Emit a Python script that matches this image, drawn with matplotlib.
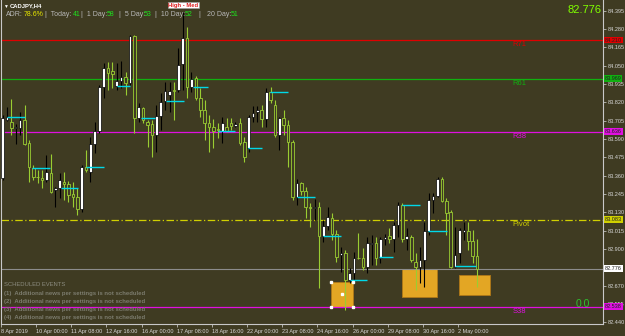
"""
CADJPY H4 chart, MetaTrader style, redrawn with matplotlib
"""
import matplotlib.pyplot as plt
import numpy as np

# OHLC of the H4 bars, 8 Apr 2019 - 2 May 2019
opens = [83.345, 83.709, 83.697, 83.659, 83.659, 83.709, 83.565, 83.408, 83.352, 83.345,
         83.333, 83.377, 83.270, 83.283, 83.320, 83.308, 83.245, 83.226, 83.151, 83.414,
         83.383, 83.559, 83.640, 83.916, 84.035, 84.017, 83.922, 83.954, 83.979, 83.941,
         84.236, 83.722, 83.784, 83.697, 83.684, 83.615, 83.734, 83.828, 83.866, 83.897,
         83.897, 84.060, 84.224, 83.916, 83.973, 83.847, 83.772, 83.690, 83.665, 83.653,
         83.640, 83.665, 83.690, 83.672, 83.690, 83.571, 83.533, 83.728, 83.759, 83.772,
         83.715, 83.885, 83.803, 83.615, 83.722, 83.678, 83.571, 83.226, 83.314, 83.264,
         83.163, 83.157, 83.163, 82.981, 83.044, 83.094, 82.994, 82.862, 82.875, 82.705,
         82.749, 82.843, 82.843, 82.787, 82.931, 82.937, 82.843, 82.963, 82.981, 82.963,
         83.050, 83.176, 82.963, 82.975, 82.818, 82.787, 82.831, 83.013, 83.207, 83.232,
         83.339, 83.201, 83.132, 82.787, 82.875, 83.006, 83.013, 82.950, 82.856]
highs = [83.741, 83.791, 83.841, 83.684, 83.759, 83.803, 83.584, 83.427, 83.395, 83.395,
         83.490, 83.496, 83.289, 83.377, 83.383, 83.326, 83.320, 83.283, 83.427, 83.521,
         83.603, 83.697, 83.929, 84.067, 84.073, 84.073, 84.067, 84.079, 84.010, 84.242,
         84.242, 83.816, 83.790, 83.709, 83.709, 83.803, 83.879, 83.948, 83.948, 83.948,
         84.161, 84.387, 84.293, 84.010, 83.985, 83.910, 83.835, 83.741, 83.715, 83.690,
         83.728, 83.722, 83.722, 83.697, 83.722, 83.603, 83.741, 83.797, 83.797, 83.803,
         83.910, 83.916, 83.835, 83.728, 83.772, 83.709, 83.584, 83.339, 83.320, 83.289,
         83.188, 83.214, 83.195, 83.082, 83.163, 83.126, 83.019, 82.912, 82.893, 82.781,
         82.881, 83.000, 82.906, 82.975, 82.988, 82.975, 82.975, 82.994, 83.032, 83.069,
         83.195, 83.188, 83.032, 82.990, 82.875, 82.912, 83.069, 83.251, 83.251, 83.352,
         83.352, 83.220, 83.145, 83.038, 83.032, 83.069, 83.069, 83.019, 82.963]
lows = [83.333, 83.703, 83.615, 83.559, 83.615, 83.552, 83.320, 83.333, 83.314, 83.283,
        83.320, 83.252, 83.163, 83.220, 83.207, 83.195, 83.163, 83.113, 83.132, 83.383,
        83.320, 83.502, 83.628, 83.847, 83.897, 83.910, 83.897, 83.910, 83.866, 83.929,
        83.628, 83.697, 83.690, 83.540, 83.477, 83.508, 83.646, 83.772, 83.759, 83.709,
        83.885, 83.897, 83.847, 83.885, 83.835, 83.728, 83.584, 83.508, 83.533, 83.596,
        83.565, 83.634, 83.646, 83.665, 83.552, 83.446, 83.508, 83.697, 83.697, 83.665,
        83.665, 83.816, 83.603, 83.521, 83.615, 83.414, 83.207, 83.176, 83.239, 83.094,
        83.038, 83.082, 82.655, 82.944, 83.019, 82.956, 82.818, 82.756, 82.517, 82.687,
        82.687, 82.837, 82.768, 82.749, 82.799, 82.799, 82.812, 82.925, 82.937, 82.881,
        82.975, 82.944, 82.893, 82.818, 82.643, 82.687, 82.661, 82.988, 83.126, 83.226,
        83.195, 82.988, 82.781, 82.781, 82.812, 82.956, 82.893, 82.812, 82.661]
closes = [83.722, 83.728, 83.659, 83.665, 83.709, 83.559, 83.414, 83.352, 83.350, 83.333,
          83.383, 83.257, 83.283, 83.333, 83.308, 83.239, 83.226, 83.151, 83.414, 83.395,
          83.559, 83.640, 83.916, 84.035, 84.004, 83.998, 83.954, 83.979, 83.941, 84.236,
          83.722, 83.791, 83.709, 83.678, 83.615, 83.734, 83.822, 83.891, 83.891, 83.891,
          84.054, 84.224, 83.916, 83.966, 83.847, 83.772, 83.690, 83.665, 83.640, 83.646,
          83.690, 83.640, 83.672, 83.684, 83.565, 83.477, 83.728, 83.753, 83.772, 83.715,
          83.885, 83.835, 83.615, 83.722, 83.678, 83.571, 83.226, 83.314, 83.264, 83.163,
          83.157, 83.163, 82.981, 83.044, 83.101, 82.994, 82.850, 82.875, 82.705, 82.749,
          82.843, 82.840, 82.787, 82.937, 82.937, 82.843, 82.963, 82.975, 82.963, 83.050,
          83.176, 82.963, 82.981, 82.831, 82.787, 82.831, 83.013, 83.207, 83.232, 83.339,
          83.201, 83.126, 82.787, 82.862, 83.019, 83.019, 82.950, 82.856, 82.776]

# short cyan level marks (start bar, end bar, price)
mark_start = [1.1, 6.8, 13.2, 18.9, 26.1, 31.4, 37.3, 43.4, 49.1, 55.9, 60.9, 67.1, 73.0, 79.1, 85.7, 90.9, 96.9, 103.0]
mark_end = [5.2, 10.9, 17.1, 23.0, 29.1, 34.8, 41.2, 46.8, 53.0, 59.1, 65.0, 71.2, 77.1, 83.0, 88.9, 95.0, 101.2, 107.8]
mark_price = [83.728, 83.408, 83.283, 83.414, 83.922, 83.722, 83.828, 83.916, 83.640, 83.533,
              83.885, 83.226, 82.981, 82.705, 82.850, 83.176, 83.013, 82.793]

# horizontal levels
level_names = ["R71", "R61", "R38", "Pivot", "S38"]
level_prices = [84.210, 83.969, 83.636, 83.083, 82.538]
level_colors = ["#e00000", "#10b010", "#e010e0", "#d0d000", "#e010e0"]
last_price = 82.776

# orange zones (bar from, bar to, low, high)
zone_x0 = [74.8, 90.95, 103.9]
zone_x1 = [79.8, 98.9, 110.97]
zone_lo = [82.536, 82.599, 82.611]
zone_hi = [82.693, 82.774, 82.737]

# axis labels (the 82.776 spot is taken by the last-price box)
price_ticks = [84.395, 84.280, 84.165, 84.050, 83.935, 83.820, 83.705, 83.590,
               83.475, 83.360, 83.245, 83.130, 83.015, 82.900, 82.670, 82.555, 82.440]
date_bars = [0, 8, 16, 24, 32, 40, 48, 56, 64, 72, 80, 88, 96, 104]
date_labels = ["8 Apr 2019", "10 Apr 00:00", "11 Apr 08:00", "12 Apr 16:00", "16 Apr 00:00",
               "17 Apr 08:00", "18 Apr 16:00", "22 Apr 00:00", "23 Apr 08:00", "24 Apr 16:00",
               "26 Apr 00:00", "29 Apr 08:00", "30 Apr 16:00", "2 May 00:00"]

BG = "#3f3b22"
FG = "#d8d8d8"
W, H = 625, 336
plt.rcParams["font.family"] = ["Liberation Sans", "DejaVu Sans"]

fig = plt.figure(figsize=(W / 100, H / 100), dpi=100, facecolor=BG)
ax = fig.add_axes([1 / W, 12 / H, 602 / W, 324 / H], facecolor=BG)


def px_text(x, y, s, **kw):
    # place text by pixel position in the figure (y from the top)
    fig.text(x / W, 1 - y / H, s, **kw)


o = np.array(opens)
h = np.array(highs)
lo = np.array(lows)
c = np.array(closes)
x = np.arange(len(o))
bull = c >= o

# wicks
ax.vlines(x[bull], lo[bull], h[bull], color="black", linewidth=0.8, zorder=3)
ax.vlines(x[~bull], lo[~bull], h[~bull], color="#9acd32", linewidth=0.8, zorder=3)
# bodies
body = np.maximum(np.abs(c - o), 0.004)
ax.bar(x[bull], body[bull], bottom=o[bull], width=0.6, color="white",
       edgecolor="black", linewidth=0.5, zorder=4)
ax.bar(x[~bull], body[~bull], bottom=c[~bull], width=0.6, color=BG,
       edgecolor="#9acd32", linewidth=0.6, zorder=4)

# cyan marks
ax.hlines(mark_price, mark_start, mark_end, color="#00d8e8", linewidth=1.0, zorder=5)

# levels
for name, p, col in zip(level_names, level_prices, level_colors):
    ls = (0, (6, 2, 1, 2)) if name == "Pivot" else "-"
    ax.axhline(p, color=col, linewidth=0.9, linestyle=ls, zorder=2)
    ax.text(116, p - 0.028, name, color=col, fontsize=5.5, va="center", ha="left", zorder=6)
    ax.text(1.003, p, f"{p:.3f}", transform=ax.get_yaxis_transform(), fontsize=4,
            color="#202020", va="center", ha="left", clip_on=False, zorder=7,
            bbox=dict(boxstyle="square,pad=0.15", fc=col, ec="none"))
ax.axhline(last_price, color="#8c8c8c", linewidth=0.8, zorder=2)
ax.text(1.003, last_price, f"{last_price:.3f}", transform=ax.get_yaxis_transform(),
        fontsize=4, color="#202020", va="center", ha="left", clip_on=False, zorder=7,
        bbox=dict(boxstyle="square,pad=0.15", fc="white", ec="none"))

# zones
for a, b, y0, y1 in zip(zone_x0, zone_x1, zone_lo, zone_hi):
    ax.add_patch(plt.Rectangle((a, y0), b - a, y1 - y0, facecolor="#e3a624",
                               edgecolor="#b07818", linewidth=0.6, zorder=1))
# selected-object handles on first zone
ax.plot([zone_x0[0], zone_x0[0], zone_x1[0], zone_x1[0], (zone_x0[0] + zone_x1[0]) / 2],
        [zone_lo[0], zone_hi[0], zone_lo[0], zone_hi[0], (zone_lo[0] + zone_hi[0]) / 2],
        "s", color="white", markersize=1.5, zorder=6)

ax.set_xlim(-0.25, 136.65)
ax.set_ylim(82.429, 84.462)

ax.yaxis.tick_right()
ax.set_yticks(price_ticks)
ax.set_yticklabels([f"{t:.3f}" for t in price_ticks])
ax.set_xticks(np.array(date_bars) - 0.35)
ax.set_xticklabels(date_labels, ha="left")
ax.tick_params(axis="both", colors=FG, labelsize=4, length=2, width=0.5, pad=1.5)
for s in ["left", "right", "bottom"]:
    ax.spines[s].set_color("#c8c8c8")
    ax.spines[s].set_linewidth(0.8)
ax.spines["top"].set_visible(False)

# header texts
px_text(3, 6, "\u25bc", color="white", fontsize=3.5, va="center")
px_text(10, 6, "CADJPY,H4", color="white", fontsize=4.2, fontweight="bold", va="center")
pieces = [(6, "ADR:", "#b8b8b8"), (24, "78.6%", "#e8e800"), (45, "|  Today:", "#b8b8b8"),
          (73, "41", "#1ee01e"), (81, "|  1 Day:", "#b8b8b8"), (107, "58", "#1ee01e"),
          (119, "|  5 Day:", "#b8b8b8"), (144, "53", "#1ee01e"), (155, "|  10 Day:", "#b8b8b8"),
          (185, "52", "#1ee01e"), (198, "|", "#b8b8b8"), (207, "20 Day:", "#b8b8b8"),
          (231, "51", "#1ee01e")]
for px, s, col in pieces:
    px_text(px, 15, s, color=col, fontsize=5, va="center")
px_text(183.5, 5, "High - Med", color="#e02020", fontsize=4.2, fontweight="bold",
        ha="center", va="center",
        bbox=dict(boxstyle="square,pad=0.12", fc="white", ec="#a0a0a0", lw=0.4))
px_text(601, 10, "82.776", color="#80ff00", fontsize=8, ha="right", va="center")
px_text(590, 304, "0.0", color="#30c030", fontsize=7.5, ha="right", va="center")

# scheduled events panel
px_text(4, 285, "SCHEDULED EVENTS", color="#8c8c80", fontsize=4.2, va="center")
for k in range(4):
    px_text(4, 293 + 8 * k, f"({k + 1})  Additional news per settings is not scheduled",
            color="#7c7c6e", fontsize=4.3, fontweight="bold", va="center")

plt.savefig("out.png", dpi=100, facecolor=BG)
